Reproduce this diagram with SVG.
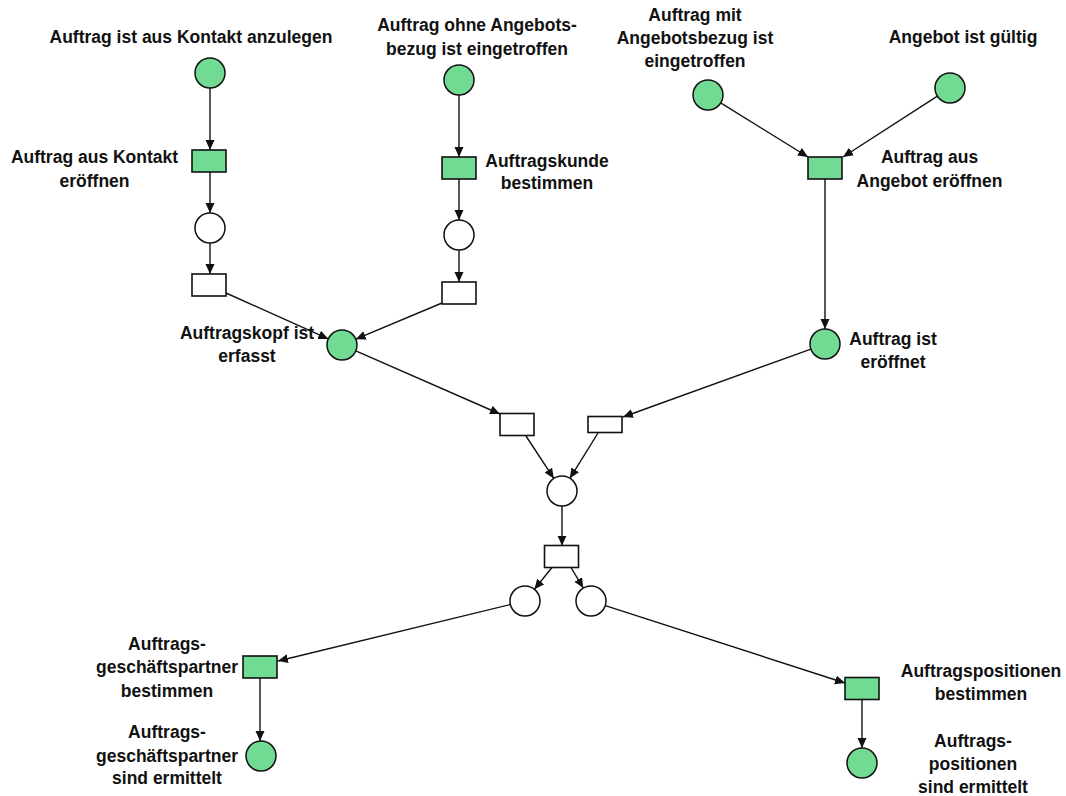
<svg xmlns="http://www.w3.org/2000/svg" width="1066" height="796" viewBox="0 0 1066 796">
<defs>
<style>
.pl{stroke:#111;stroke-width:1.5;}
.g{fill:#72DB93;}
.w{fill:#fff;}
.tr{stroke:#111;stroke-width:1.6;}
.e{stroke:#111;stroke-width:1.4;fill:none;marker-end:url(#ah);}
text{font-family:"Liberation Sans",Arial,sans-serif;font-size:17.5px;font-weight:bold;fill:#111;text-anchor:middle;}
</style>
<marker id="ah" markerUnits="userSpaceOnUse" markerWidth="11" markerHeight="10" refX="10" refY="4.5" orient="auto">
<path d="M0,0 L10,4.5 L0,9 Z" fill="#111"/>
</marker>
</defs>
<rect width="1066" height="796" fill="#fff"/>
<g id="connectors">
<line class="e" x1="210" y1="88" x2="210" y2="150"/>
<line class="e" x1="210" y1="172" x2="210" y2="213"/>
<line class="e" x1="210" y1="243" x2="210" y2="274"/>
<line class="e" x1="226" y1="293" x2="328.3" y2="338.9"/>
<line class="e" x1="459" y1="95" x2="459" y2="157"/>
<line class="e" x1="459" y1="179" x2="459" y2="220"/>
<line class="e" x1="459" y1="250" x2="459" y2="282"/>
<line class="e" x1="442" y1="303" x2="355.8" y2="339.2"/>
<line class="e" x1="720.7" y1="102.9" x2="808" y2="157"/>
<line class="e" x1="937.4" y1="96.1" x2="843" y2="157"/>
<line class="e" x1="825" y1="179" x2="825" y2="329"/>
<line class="e" x1="355.8" y1="350.9" x2="500" y2="414"/>
<line class="e" x1="810.9" y1="349.1" x2="623" y2="417"/>
<line class="e" x1="526" y1="436" x2="553.8" y2="478.4"/>
<line class="e" x1="598" y1="433" x2="569.9" y2="478.3"/>
<line class="e" x1="562" y1="506" x2="562" y2="545.7"/>
<line class="e" x1="552" y1="567.5" x2="534.4" y2="589.3"/>
<line class="e" x1="571" y1="567.5" x2="583.3" y2="588.1"/>
<line class="e" x1="510.4" y1="604.5" x2="278" y2="661"/>
<line class="e" x1="605.3" y1="605.6" x2="845" y2="683"/>
<line class="e" x1="260" y1="678" x2="260" y2="741"/>
<line class="e" x1="862" y1="700" x2="862" y2="748"/>
</g>
<g id="p_kontakt"><circle class="pl g" cx="210" cy="73" r="15"/><text x="191" y="43">Auftrag ist aus Kontakt anzulegen</text></g>
<g id="t_kontakt"><rect class="tr g" x="192" y="150" width="34" height="22"/><text x="94.5" y="163">Auftrag aus Kontakt</text><text x="94.5" y="187">eröffnen</text></g>
<g id="p_w1"><circle class="pl w" cx="210" cy="228" r="15"/></g>
<g id="t_w1"><rect class="tr w" x="192" y="274" width="34" height="22"/></g>
<g id="p_ohne"><circle class="pl g" cx="459" cy="80" r="15"/><text x="477" y="31">Auftrag ohne Angebots-</text><text x="477" y="55">bezug ist eingetroffen</text></g>
<g id="t_kunde"><rect class="tr g" x="442" y="157" width="34" height="22"/><text x="547" y="167">Auftragskunde</text><text x="547" y="189">bestimmen</text></g>
<g id="p_w2"><circle class="pl w" cx="459" cy="235" r="15"/></g>
<g id="t_w2"><rect class="tr w" x="442" y="282" width="34" height="22"/></g>
<g id="p_mit"><circle class="pl g" cx="708" cy="95" r="15"/><text x="695" y="21">Auftrag mit</text><text x="695" y="44">Angebotsbezug ist</text><text x="695" y="67">eingetroffen</text></g>
<g id="p_gueltig"><circle class="pl g" cx="950" cy="88" r="15"/><text x="963" y="43">Angebot ist gültig</text></g>
<g id="t_angebot"><rect class="tr g" x="808" y="157" width="34" height="22"/><text x="929.5" y="163">Auftrag aus</text><text x="929.5" y="187">Angebot eröffnen</text></g>
<g id="p_kopf"><circle class="pl g" cx="342" cy="345" r="15"/><text x="247" y="339">Auftragskopf ist</text><text x="247" y="362">erfasst</text></g>
<g id="p_eroeffnet"><circle class="pl g" cx="825" cy="344" r="15"/><text x="893" y="345">Auftrag ist</text><text x="893" y="368">eröffnet</text></g>
<g id="t_a"><rect class="tr w" x="500" y="413.5" width="34" height="22"/></g>
<g id="t_b"><rect class="tr w" x="588" y="416.5" width="34" height="16"/></g>
<g id="p_mid"><circle class="pl w" cx="562" cy="491" r="15"/></g>
<g id="t_c"><rect class="tr w" x="544.5" y="545.5" width="34" height="22"/></g>
<g id="p_left"><circle class="pl w" cx="525" cy="601" r="15"/></g>
<g id="p_right"><circle class="pl w" cx="591" cy="601" r="15"/></g>
<g id="t_gp"><rect class="tr g" x="243" y="656" width="34" height="22"/><text x="167" y="650">Auftrags-</text><text x="167" y="673">geschäftspartner</text><text x="167" y="697">bestimmen</text></g>
<g id="p_gp"><circle class="pl g" cx="261" cy="756" r="15"/><text x="167" y="738">Auftrags-</text><text x="167" y="762">geschäftspartner</text><text x="167" y="784">sind ermittelt</text></g>
<g id="t_pos"><rect class="tr g" x="845" y="677.5" width="34" height="22"/><text x="981" y="677">Auftragspositionen</text><text x="981" y="700">bestimmen</text></g>
<g id="p_pos"><circle class="pl g" cx="862" cy="763" r="15"/><text x="973" y="747">Auftrags-</text><text x="973" y="770">positionen</text><text x="973" y="793">sind ermittelt</text></g>
</svg>
